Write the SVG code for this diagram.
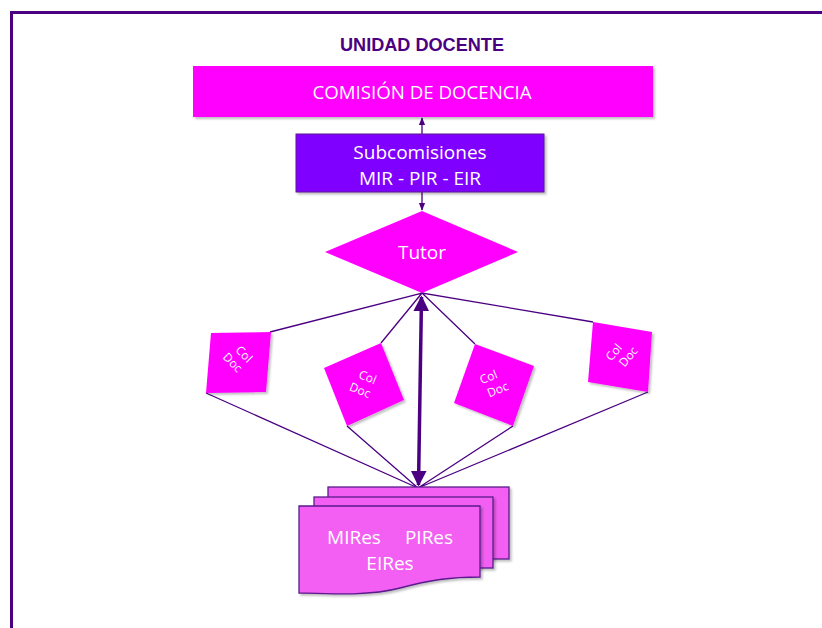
<svg xmlns="http://www.w3.org/2000/svg" width="822" height="628" viewBox="0 0 822 628">
<defs>
<style>
.t{font-family:"Open Sans","Liberation Sans",sans-serif;fill:#fff;text-anchor:middle}
.c{stroke:#4B0082;stroke-width:1.3;fill:none}
.cd{fill:#FF00FF}
.doc{fill:#F35EF3;stroke:#5A1A8C;stroke-width:1.3}
</style>
<marker id="ah" viewBox="0 0 10 10" refX="9" refY="5" markerWidth="6" markerHeight="6" orient="auto-start-reverse"><path d="M0,1 L10,5 L0,9 z" fill="#4B0082"/></marker>
<marker id="ahb" viewBox="0 0 10 10" refX="9" refY="5" markerWidth="4.5" markerHeight="4.5" orient="auto-start-reverse"><path d="M0,0 L10,5 L0,10 z" fill="#4B0082"/></marker>
<filter id="sh" x="-10%" y="-10%" width="130%" height="130%"><feDropShadow dx="2" dy="2" stdDeviation="1" flood-color="#000" flood-opacity="0.25"/></filter>
</defs>
<rect width="822" height="628" fill="#fff"/>
<path d="M11.5,640 L11.5,12.5 L830,12.5" fill="none" stroke="#4B0082" stroke-width="3"/>
<text x="422" y="51" style="font-family:'Liberation Sans',sans-serif;font-weight:bold;font-size:18px;fill:#4B0082;text-anchor:middle" textLength="164" lengthAdjust="spacingAndGlyphs">UNIDAD DOCENTE</text>

<g id="connectors">
<line class="c" x1="422" y1="134" x2="422" y2="118" marker-end="url(#ah)"/>
<line class="c" x1="422" y1="192" x2="422" y2="210" marker-end="url(#ah)"/>
<polyline class="c" points="270,332 422,293 381,343"/>
<polyline class="c" points="475,344 422,293 593,322"/>
<polyline class="c" points="206,393 418,488 347,426"/>
<polyline class="c" points="513,426 418,488 648,392"/>
<line x1="421.5" y1="297" x2="418.5" y2="485" stroke="#4B0082" stroke-width="3.5" marker-start="url(#ahb)" marker-end="url(#ahb)"/>
</g>

<g id="comision">
<rect x="193" y="66" width="460" height="51" class="cd" filter="url(#sh)"/>
<text class="t" x="422" y="99" font-size="19" textLength="219" lengthAdjust="spacingAndGlyphs">COMISIÓN DE DOCENCIA</text>
</g>
<g id="subcomisiones">
<rect x="296" y="134" width="248" height="58" fill="#8000FF" stroke="#5A1A8C" stroke-width="1" filter="url(#sh)"/>
<text class="t" x="420" y="159" font-size="19">Subcomisiones</text>
<text class="t" x="420" y="185" font-size="19">MIR - PIR - EIR</text>
</g>
<g id="tutor">
<polygon points="422,211 518,252 422,293 325,252" class="cd"/>
<text class="t" x="422" y="259" font-size="19">Tutor</text>
</g>

<g id="coldoc1">
<polygon points="211,333 271,332 266,392 206,393" class="cd" filter="url(#sh)"/>
<text class="t" font-size="12" transform="translate(241,357) rotate(45)"><tspan x="0" y="0">Col</tspan><tspan x="-2" y="14">Doc</tspan></text>
</g>
<g id="coldoc2">
<polygon points="324,368 381,343 404,400 347,426" class="cd" filter="url(#sh)"/>
<text class="t" font-size="12" transform="translate(366,381) rotate(22)"><tspan x="0" y="0">Col</tspan><tspan x="-2" y="15">Doc</tspan></text>
</g>
<g id="coldoc3">
<polygon points="475,344 534,366 513,426 454,403" class="cd" filter="url(#sh)"/>
<text class="t" font-size="12" transform="translate(490,381) rotate(-22)"><tspan x="0" y="0">Col</tspan><tspan x="4" y="15">Doc</tspan></text>
</g>
<g id="coldoc4">
<polygon points="593,322 652,332 648,392 588,382" class="cd" filter="url(#sh)"/>
<text class="t" font-size="12" transform="translate(617,355) rotate(-50)"><tspan x="0" y="0">Col</tspan><tspan x="6" y="14">Doc</tspan></text>
</g>

<g id="residentes">
<rect x="328" y="487" width="181" height="72" class="doc" filter="url(#sh)"/>
<rect x="314" y="497" width="179" height="71" class="doc" filter="url(#sh)"/>
<path d="M299,506 L480,506 L480,577 C450,577 430,580 400,588 C370,596 330,594 299,593 Z" class="doc" filter="url(#sh)"/>
<text class="t" x="354" y="544" font-size="19">MIRes</text>
<text class="t" x="429" y="544" font-size="19">PIRes</text>
<text class="t" x="390" y="570" font-size="19">EIRes</text>
</g>
</svg>
